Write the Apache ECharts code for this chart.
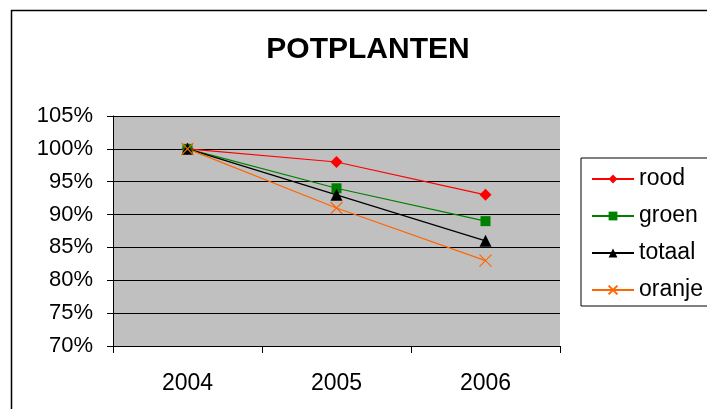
<!DOCTYPE html>
<html>
<head>
<meta charset="utf-8">
<script src="https://cdn.jsdelivr.net/npm/echarts@6/dist/echarts.min.js"></script>
<style>
  html, body { margin: 0; padding: 0; background: #fff; }
  #chart { width: 707px; height: 409px; }
</style>
</head>
<body>
<div id="chart"></div>
<script>
var years = ['2004', '2005', '2006'];
var rood = [100, 98, 93];
var groen = [100, 94, 89];
var totaal = [100, 93, 86];
var oranje = [100, 91, 83];

var font = 'Liberation Sans, Arial, sans-serif';

function line(name, data, color, symbol, size) {
    return {
        name: name,
        type: 'line',
        data: data,
        symbol: symbol,
        symbolSize: size,
        showSymbol: true,
        lineStyle: {color: color, width: 1.2},
        itemStyle: {color: color},
        emphasis: {disabled: true}
    };
}

var crossPath = 'path://M0,0L10,10M10,0L0,10';

var option = {
    animation: false,
    title: {
        text: 'POTPLANTEN',
        left: 363,
        top: 30,
        textAlign: 'center',
        textStyle: {fontFamily: font, fontSize: 30, fontWeight: 'bold', color: '#000'}
    },
    legend: {
        orient: 'vertical',
        left: 581,
        top: 158,
        padding: [9, 60, 4, 10],
        itemGap: 13,
        itemWidth: 42,
        itemHeight: 11,
        borderColor: '#000',
        borderWidth: 1,
        textStyle: {fontFamily: font, fontSize: 23, lineHeight: 24, color: '#000'},
        data: ['rood', 'groen', 'totaal', 'oranje']
    },
    grid: {
        left: 113,
        top: 116,
        width: 447,
        height: 230,
        show: true,
        backgroundColor: '#c0c0c0',
        borderWidth: 0
    },
    xAxis: {
        type: 'category',
        data: years,
        boundaryGap: true,
        axisLine: {lineStyle: {color: '#000'}},
        axisTick: {show: true, length: 7, inside: false, lineStyle: {color: '#000'}},
        axisLabel: {fontFamily: font, fontSize: 23, color: '#000', margin: 26}
    },
    yAxis: {
        type: 'value',
        min: 70,
        max: 105,
        interval: 5,
        axisLine: {show: true, lineStyle: {color: '#000'}},
        axisTick: {show: true, length: 6, lineStyle: {color: '#000'}},
        splitLine: {lineStyle: {color: '#000', width: 1}},
        axisLabel: {
            fontFamily: font, fontSize: 22, color: '#000', margin: 20,
            formatter: '{value}%'
        }
    },
    graphic: [{
        type: 'rect',
        silent: true,
        z: -1,
        shape: {x: 11.5, y: 10.5, width: 720, height: 420},
        style: {fill: 'none', stroke: '#000', lineWidth: 1.5}
    }],
    series: [
        line('rood', rood, '#ff0000', 'diamond', 12),
        line('groen', groen, '#008000', 'rect', 10),
        line('totaal', totaal, '#000000', 'triangle', 12),
        Object.assign(line('oranje', oranje, '#ff6600', crossPath, 12), {
            itemStyle: {color: 'none', borderColor: '#ff6600', borderWidth: 1.2}
        })
    ]
};

var chart = echarts.init(document.getElementById('chart'));
chart.setOption(option);
</script>
</body>
</html>
